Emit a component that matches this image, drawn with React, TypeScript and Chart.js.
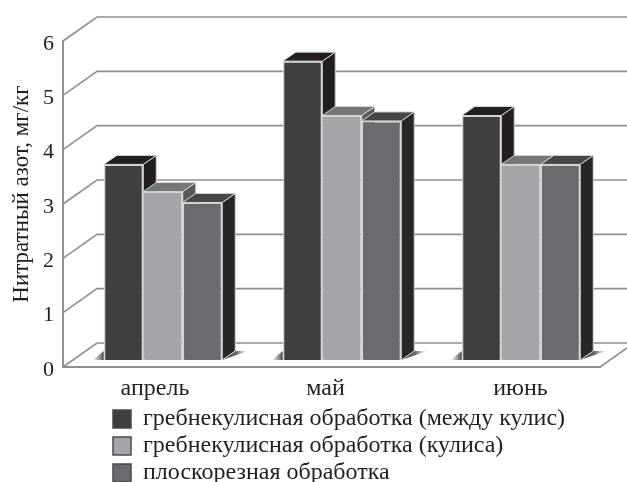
import React, { useEffect, useRef } from "react";
import { Chart, registerables } from "chart.js";

Chart.register(...registerables);

const categories = ["апрель", "май", "июнь"];
const seriesNames = [
  "гребнекулисная обработка (между кулис)",
  "гребнекулисная обработка (кулиса)",
  "плоскорезная обработка",
];
const ridgeBetween = [3.6, 5.5, 4.5];
const ridgeCenter = [3.1, 4.5, 3.6];
const flatCut = [2.9, 4.4, 3.6];
const yTicks = [0, 1, 2, 3, 4, 5, 6];

const frontColors = ["#3e3f41", "#a4a5a8", "#6a6b6e"];
const topColors = ["#231f20", "#757678", "#454648"];
const sideColors = ["#231f20", "#58595b", "#282627"];
const edgeColor = "#d4d5d7";
const gridColor = "#8f9092";
const inkColor = "#231f20";
const serif = "'Liberation Serif', serif";

// Depth of the walls and of the bars, and the bars' shift off the front plane.
const WALL_DX = 34;
const WALL_DY = -24;
const BAR_DX = 13;
const BAR_DY = -9;
const SHIFT_X = 10.5;
const SHIFT_Y = -7;
const LABEL_NUDGE = [2.5, -6, 10];
const TICK_DROP = 3;
const TITLE_SHIFT_Y = -10;

function quad(ctx: CanvasRenderingContext2D, pts: number[][], fill: string, stroke = edgeColor) {
  ctx.beginPath();
  pts.forEach(([x, y], i) => (i ? ctx.lineTo(x, y) : ctx.moveTo(x, y)));
  ctx.closePath();
  ctx.fillStyle = fill;
  ctx.fill();
  ctx.strokeStyle = stroke;
  ctx.lineWidth = 1;
  ctx.stroke();
}

// Back wall, side wall and floor of the box.
const boxPlugin = {
  id: "box",
  beforeDatasetsDraw(chart: any) {
    const { ctx, chartArea: a, scales } = chart;
    ctx.save();
    ctx.strokeStyle = gridColor;
    ctx.lineWidth = 1.6;
    yTicks.forEach((t) => {
      const y = scales.y.getPixelForValue(t);
      ctx.beginPath();
      ctx.moveTo(a.left, y);
      ctx.lineTo(a.left + WALL_DX, y + WALL_DY);
      ctx.lineTo(chart.width, y + WALL_DY);
      ctx.stroke();
    });
    const y0 = scales.y.getPixelForValue(0);
    ctx.beginPath();
    ctx.moveTo(a.right, y0);
    ctx.lineTo(a.right + WALL_DX, y0 + WALL_DY);
    ctx.stroke();
    ctx.restore();
  },
};

// Floor shadows, side faces and top faces; the front faces are the chart's own bars.
const depthPlugin = {
  id: "depth",
  beforeDatasetsDraw(chart: any) {
    const { ctx } = chart;
    ctx.save();
    ctx.translate(SHIFT_X, SHIFT_Y);
    const first = chart.getDatasetMeta(0).data;
    const last = chart.getDatasetMeta(2).data;
    first.forEach((bar: any, i: number) => {
      const baseY = bar.base;
      const lx = bar.x - bar.width / 2;
      const rx = last[i].x + last[i].width / 2;
      const leftFade = ctx.createLinearGradient(lx - 11, 0, lx, 0);
      leftFade.addColorStop(0, "rgba(130,130,132,0.1)");
      leftFade.addColorStop(1, "rgba(70,70,72,1)");
      ctx.beginPath();
      ctx.moveTo(lx - 11, baseY);
      ctx.lineTo(lx, baseY + BAR_DY);
      ctx.lineTo(lx, baseY);
      ctx.closePath();
      ctx.fillStyle = leftFade;
      ctx.fill();
      const rightFade = ctx.createLinearGradient(rx, 0, rx + 26, 0);
      rightFade.addColorStop(0, "rgba(60,60,62,1)");
      rightFade.addColorStop(0.55, "rgba(90,90,92,0.9)");
      rightFade.addColorStop(1, "rgba(170,170,172,0.1)");
      ctx.beginPath();
      ctx.moveTo(rx, baseY);
      ctx.lineTo(rx + BAR_DX, baseY + BAR_DY);
      ctx.lineTo(rx + 26, baseY + BAR_DY);
      ctx.closePath();
      ctx.fillStyle = rightFade;
      ctx.fill();
    });
    [0, 1, 2].forEach((d) => {
      chart.getDatasetMeta(d).data.forEach((bar: any) => {
        const l = bar.x - bar.width / 2;
        const r = bar.x + bar.width / 2;
        quad(ctx, [[r, bar.y], [r + BAR_DX, bar.y + BAR_DY], [r + BAR_DX, bar.base + BAR_DY], [r, bar.base]], sideColors[d]);
        quad(ctx, [[l, bar.y], [l + BAR_DX, bar.y + BAR_DY], [r + BAR_DX, bar.y + BAR_DY], [r, bar.y]], topColors[d]);
      });
    });
    // The transform stays on for the front faces and comes off in afterDatasetsDraw.
  },
  afterDatasetsDraw(chart: any) {
    chart.ctx.restore();
  },
};

// Takes the legend out of the layout and puts it below the axis, moves the tick
// labels into place and lifts the axis title to its place beside the ticks.
const placementPlugin = {
  id: "placement",
  beforeLayout(chart: any) {
    const legend = chart.legend;
    if (!legend.flattened) {
      const fit = legend.fit.bind(legend);
      legend.fit = () => {
        fit();
        legend.height = 0;
      };
      legend.flattened = true;
    }
  },
  afterLayout(chart: any) {
    chart.legend.left = 110;
    chart.legend.top = 404;
    const y = chart.scales.y;
    const drawTitle = y.drawTitle.bind(y);
    y.drawTitle = () => {
      chart.ctx.save();
      chart.ctx.translate(0, TITLE_SHIFT_Y);
      drawTitle();
      chart.ctx.restore();
    };
  },
  beforeDraw(chart: any) {
    chart.scales.x.getLabelItems().forEach((item: any, i: number) => {
      if (!item.nudged) {
        item.options.translation[0] += LABEL_NUDGE[i];
        item.nudged = true;
      }
    });
    chart.scales.y.getLabelItems().forEach((item: any) => {
      if (!item.nudged) {
        item.options.translation[1] += TICK_DROP;
        item.nudged = true;
      }
    });
  },
};

export default function App() {
  const ref = useRef<HTMLCanvasElement>(null);
  useEffect(() => {
    const values = [ridgeBetween, ridgeCenter, flatCut];
    const chart = new Chart(ref.current as HTMLCanvasElement, {
      type: "bar",
      data: {
        labels: categories,
        datasets: seriesNames.map((label, d) => ({
          label,
          data: values[d],
          backgroundColor: frontColors[d],
          borderColor: edgeColor,
          borderWidth: 1.5,
          categoryPercentage: 0.662,
          barPercentage: 1,
        })),
      },
      options: {
        animation: false,
        responsive: false,
        layout: { padding: { top: 41, right: 27, left: 0, bottom: 0 } },
        scales: {
          x: {
            afterFit: (s: any) => {
              s.height = 115;
            },
            grid: { display: false, tickLength: 0 },
            border: { color: gridColor, width: 2 },
            ticks: { color: inkColor, font: { family: serif, size: 24 }, padding: 7, maxRotation: 0 },
          },
          y: {
            min: 0,
            max: 6,
            afterFit: (s: any) => {
              s.width = 63;
            },
            grid: { display: false, tickLength: 0 },
            border: { color: gridColor, width: 2 },
            title: {
              display: true,
              text: "Нитратный азот, мг/кг",
              color: inkColor,
              font: { family: serif, size: 23 },
              padding: { top: 8, bottom: 0 },
            },
            ticks: {
              stepSize: 1,
              color: inkColor,
              font: { family: serif, size: 22 },
              padding: 9,
            },
          },
        },
        plugins: {
          tooltip: { enabled: false },
          legend: {
            position: "bottom",
            align: "start",
            labels: {
              boxWidth: 18,
              boxHeight: 18,
              padding: 3,
              color: inkColor,
              font: { family: serif, size: 24 },
              generateLabels: (c: any) =>
                c.data.datasets.map((ds: any, i: number) => ({
                  text: ds.label,
                  fillStyle: frontColors[i],
                  strokeStyle: "#4a4a4c",
                  lineWidth: 1.5,
                  fontColor: inkColor,
                  datasetIndex: i,
                })),
            },
          },
        },
      },
      plugins: [placementPlugin, boxPlugin, depthPlugin],
    } as any);
    return () => chart.destroy();
  }, []);
  return (
    <canvas
      ref={ref}
      width={627}
      height={482}
      style={{ position: "absolute", left: 0, top: 0, width: 627, height: 482 }}
    />
  );
}
